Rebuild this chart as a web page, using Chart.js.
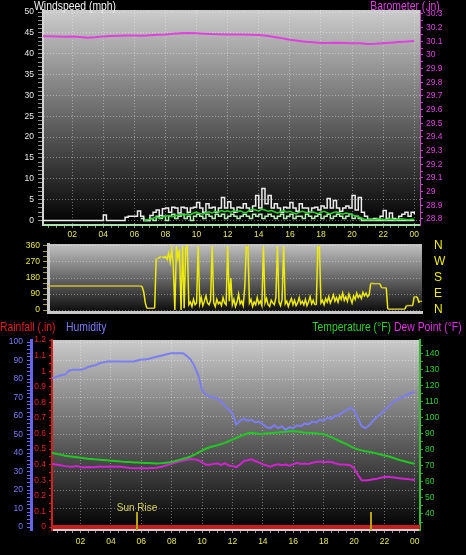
<!DOCTYPE html>
<html>
<head>
<meta charset="utf-8">
<title>Weather day</title>
<script src="https://cdn.jsdelivr.net/npm/chart.js@4/dist/chart.umd.min.js"></script>
<style>
  html, body { margin: 0; padding: 0; background: #000; }
  #page { position: relative; width: 466px; height: 555px; overflow: hidden; background: #000;
          font-family: 'Liberation Sans', Arial, sans-serif; }
  #page canvas { position: absolute; left: 0; }
  .title { position: absolute; font-size: 13px; line-height: 15px; white-space: nowrap; z-index: 5;
           transform: scaleX(0.8); transform-origin: left top; }
  .title.r { transform-origin: right top; }
</style>
</head>
<body>
<div id="page">
  <canvas id="windChart" width="466" height="240" style="top:0"></canvas>
  <canvas id="dirChart" width="466" height="92" style="top:230px"></canvas>
  <canvas id="climateChart" width="466" height="237" style="top:318px"></canvas>

  <div class="title" style="left:34px;top:-2px;color:#f2f2f2">Windspeed (mph)</div>
  <div class="title r" style="right:26px;top:-2px;color:#e040e0">Barometer (.in)</div>
  <div class="title" style="left:0;top:319px;color:#e02020">Rainfall (.in)</div>
  <div class="title" style="left:66px;top:319px;color:#7c7cf4">Humidity</div>
  <div class="title r" style="right:4px;top:319px"><span style="color:#2cd02c">Temperature (°F)</span> <span style="color:#e030e0">Dew Point (°F)</span></div>
</div>

<script>
// wind speed, mph, sampled every 0.2 h from 00:00
const windStart = 0, windStep = 0.2;
const windGust = [
  0, 0, 0, 0, 0, 0, 0, 0, 0, 0,
  0, 0, 0, 0, 0, 0, 0, 0, 0, 0,
  1.3, 0, 0, 0, 0, 0, 0, 0.8, 1, 1,
  1, 2.3, 1, 0, 0, 1.2, 2, 2.5, 1.2, 2.8,
  3, 2, 3.2, 3, 1.8, 3.2, 3, 2, 3, 3.2,
  4.3, 3, 2, 4, 3, 3.2, 2, 3, 5.5, 3,
  4.5, 3, 2, 3.2, 3, 4, 3, 2.2, 3.5, 6,
  3, 7.7, 4, 6, 3, 4, 3, 2, 3.2, 3,
  4.3, 3, 2.2, 4, 3, 3, 2, 3, 3.2, 2.5,
  3.5, 3, 5.3, 3, 4.8, 3, 2.2, 3, 3.5, 3,
  6, 2.5, 5.5, 2, 1, 0.3, 0.3, 0.5, 0.3, 1,
  2.4, 0.5, 1.8, 0.5, 0.3, 1, 1.5, 2, 1, 2,
  1.5
];
const windAvg = [
  null, null, null, null, null, null, null, null, null, null,
  null, null, null, null, null, null, null, null, null, null,
  null, null, null, null, null, null, null, null, null, null,
  null, null, null, 0, 0.2, 0.3, 0.5, 0.8, 0.6, 0.8,
  1, 1.2, 0.9, 1.1, 1.3, 1.5, 1.2, 1.6, 1.4, 1.8,
  2, 1.7, 1.5, 1.9, 2.1, 1.8, 2.2, 2, 2.4, 2.1,
  2.3, 2, 2.4, 2.1, 2.3, 2, 1.9, 2.4, 2.7, 2.5,
  2.3, 2.7, 2.5, 2.2, 2.4, 2.1, 1.8, 2.1, 2.3, 2,
  2.2, 1.9, 1.6, 2, 2.2, 2, 1.8, 2.1, 1.9, 1.6,
  2, 2.2, 1.9, 1.6, 1.9, 2.1, 1.8, 1.5, 1.8, 1.6,
  1.4, 1.1, 0.9, 0.6, 0.3, 0.2, 0.3, 0.2, 0.3, 0.4,
  0.3, 0.2, 0.4, 0.3, 0.2, 0.3, 0.4, 0.3, 0.2, 0.3,
  0.3
];
const windLull = [
  null, null, null, null, null, null, null, null, null, null,
  null, null, null, null, null, null, null, null, null, null,
  null, null, null, null, null, null, null, null, null, null,
  null, null, 0.5, 0, 0, 0.5, 0, 1, 0.5, 1,
  0, 1, 1.5, 0.5, 1, 1.5, 0.5, 1, 0, 1,
  1.5, 1, 0.5, 1.5, 1, 0.5, 1.5, 1, 1.5, 0.5,
  1, 1.5, 1, 0.5, 1, 1.5, 1, 0.5, 1.5, 1,
  1.5, 0.5, 1, 1.5, 1, 0.5, 1, 1.5, 0.5, 1,
  1.5, 0.5, 1, 1, 0.5, 1.5, 1, 0.5, 1, 1.5,
  0.5, 1, 1.5, 0.5, 1, 1.5, 1, 0.5, 1, 1.5,
  0.5, 1, 0.5, 0, 0, 0, 0, 0, 0, 0,
  0, 0, 0, 0, 0, 0, 0, 0, 0, 0,
  0
];

// barometer, inHg, every 0.5 h
const baroStart = 0, baroStep = 0.5;
const barometer = [
  30.138, 30.137, 30.136, 30.134, 30.135, 30.131, 30.126, 30.129, 30.136, 30.138,
  30.140, 30.142, 30.143, 30.141, 30.145, 30.148, 30.150, 30.155, 30.158, 30.160,
  30.158, 30.156, 30.153, 30.152, 30.150, 30.150, 30.149, 30.148, 30.146, 30.140,
  30.132, 30.122, 30.112, 30.104, 30.097, 30.093, 30.088, 30.088, 30.090, 30.088,
  30.086, 30.086, 30.081, 30.082, 30.086, 30.090, 30.095, 30.098, 30.103
];

// wind direction, degrees, every 0.1 h from 00:24
const dirStart = 0.4, dirStep = 0.1;
const windDir = [
  135, 135, 135, 135, 135, 135,
  135, 135, 135, 135, 135, 135, 135, 135, 135, 135,
  135, 135, 135, 135, 135, 135, 135, 135, 135, 135,
  135, 135, 135, 135, 135, 135, 135, 135, 135, 135,
  135, 135, 135, 135, 135, 135, 135, 135, 135, 135,
  135, 135, 135, 135, 135, 135, 135, 135, 135, 135,
  135, 135, 135, 135, 135, 130, 100, 40, 10, 10,
  10, 10, 10, 10, 290, 290, 295, 300, 300, 295,
  300, 285, 320, 270, 340, 250, 0, 360, 290, 340,
  0, 360, 10, 350, 360, 30, 45, 20, 60, 30,
  40, 360, 35, 70, 25, 50, 80, 40, 30, 55,
  360, 40, 20, 60, 35, 45, 25, 70, 40, 30,
  360, 50, 180, 30, 60, 20, 45, 90, 35, 50,
  25, 130, 360, 360, 40, 60, 20, 45, 30, 70,
  35, 50, 25, 360, 40, 65, 30, 20, 55, 40,
  30, 70, 360, 45, 25, 60, 360, 35, 50, 20,
  45, 65, 30, 55, 25, 40, 70, 35, 50, 30,
  60, 25, 45, 75, 35, 55, 30, 30, 360, 360,
  40, 55, 30, 65, 45, 75, 40, 60, 85, 50,
  70, 45, 80, 60, 95, 55, 75, 50, 90, 65,
  40, 80, 60, 95, 70, 85, 65, 100, 80, 95,
  75, 85, 150, 150, 148, 148, 148, 148, 148, 125,
  125, 125, 125, 5, 5, 5, 5, 5, 5, 5,
  5, 5, 5, 5, 5, 25, 25, 25, 25, 25,
  75, 75, 70, 45, 50, 50
];
const compassTicks = [0, 90, 180, 270, 360];
const compassNames = ['N', 'E', 'S', 'W', 'N'];

// humidity %, temperature and dew point °F, every 0.25 h
const climStart = 0, climStep = 0.25;
const humidity = [
  80.5, 80.5, 81.5, 82, 82.5, 84.5, 85, 85, 85, 85.5,
  86.5, 87, 87.5, 88.5, 89, 89.5, 89.5, 89.5, 89.5, 89.5,
  89.5, 89.5, 89.5, 90, 90.5, 90.5, 91, 91.5, 92, 92.5,
  93, 93.5, 94, 94, 94, 94, 92.5, 90.5, 87, 82,
  74, 71.5, 70.5, 70, 69.5, 68, 65.5, 63.5, 61.5, 55.5,
  57.5, 58.5, 57.5, 58, 56.5, 57, 55.5, 54, 53.5, 55,
  53.5, 54.5, 52.5, 54, 53.5, 55, 54.5, 56, 55.5, 57,
  56.5, 58, 57.5, 59, 58.5, 60, 60.5, 62, 63, 64.5,
  63, 59, 54.5, 53.5, 55, 57.5, 59.5, 61, 63, 65,
  67, 68.5, 69.5, 70.5, 71.5, 72.5, 73
];
const temperature = [
  78, 77.8, 77.3, 76.8, 76.3, 75.9, 75.6, 75.3, 75, 74.7,
  74.4, 74.2, 74, 73.8, 73.6, 73.4, 73.2, 73, 72.8, 72.6,
  72.4, 72.3, 72.1, 72, 71.9, 71.8, 71.7, 71.6, 71.5, 71.6,
  71.8, 72.1, 72.4, 73, 73.7, 74.4, 75, 75.8, 77, 78.3,
  79.5, 80.6, 81.5, 82.2, 82.8, 83.5, 84.3, 85.3, 86.3, 87.3,
  88.3, 89.3, 90.2, 90.5, 90.2, 89.8, 90, 90.3, 90.2, 90.6,
  90.8, 91, 91.2, 91.5, 91.6, 91.4, 91, 90.6, 90.5, 90.4,
  90.2, 90, 89.7, 88.8, 87.8, 86.8, 85.6, 84.5, 83.5, 82.3,
  81, 80.2, 79.6, 79.1, 78.7, 78.2, 77.6, 77, 76.4, 75.9,
  75.2, 74.4, 73.6, 73, 72.4, 71.8, 71.3
];
const dewPoint = [
  71.2, 71, 70.6, 70.2, 69.8, 69.5, 69.4, 69.8, 69.3, 69,
  69.2, 69.1, 69.3, 69.5, 69.4, 69.4, 69.5, 69.4, 69.5, 69.3,
  69, 68.7, 68.5, 68.4, 68.4, 68.5, 68.4, 68.6, 68.8, 69.3,
  69.9, 70.6, 71.3, 72, 72.6, 73.3, 73.8, 74.2, 74, 73.5,
  72.2, 70.7, 70.6, 71.2, 71.5, 70.6, 71.6, 70.2, 69.8, 69.2,
  70.8, 73, 73.5, 74, 73, 72, 71, 70.2, 69.5, 70.5,
  71, 70.4, 70.8, 70, 71, 71.8, 71.2, 71.5, 71.2, 71.9,
  72.3, 72.6, 72.2, 72.5, 72.3, 71.6, 71, 70.8, 70.6, 70.3,
  68.5, 64.5, 61, 60.8, 61.2, 61.6, 62, 62.5, 63, 63.2,
  62.8, 62.5, 62.2, 62, 61.8, 61.4, 61.2
];
// rainfall, inches
const rainHours = [0, 24.4];
const rainfall = [0, 0];

const sunRise = 5.72;
const sunSet = 21.09;

const FONT = "'Liberation Sans', Arial, sans-serif";
const GRID = 'rgba(255,255,255,0.38)';
const TICK = '#8e8e8e';
const TICK_SIZE = 8.5;

function series(start, step, values) {
  return values.map((v, i) => ({ x: Math.round((start + i * step) * 100) / 100, y: v }));
}

function steps(from, to, step) {
  const out = [];
  const n = Math.round((to - from) / step);
  for (let i = 0; i <= n; i++) out.push(Math.round((from + i * step) * 1000) / 1000);
  return out;
}

// grey to black plot background
const plotBg = {
  id: 'plotBg',
  beforeDraw(chart, args, opts) {
    const { ctx, chartArea: a } = chart;
    const g = ctx.createLinearGradient(0, a.top, 0, a.bottom);
    g.addColorStop(0, opts.top);
    g.addColorStop(1, opts.bottom);
    ctx.save();
    ctx.fillStyle = g;
    ctx.fillRect(a.left, a.top, a.width, a.height);
    ctx.restore();
  }
};

// sun rise / sun set markers
const sunMarks = {
  id: 'sunMarks',
  afterDatasetsDraw(chart) {
    const { ctx, chartArea: a, scales: { x } } = chart;
    ctx.save();
    ctx.strokeStyle = '#b9a210';
    ctx.lineWidth = 2;
    [sunRise, sunSet].forEach(h => {
      const px = Math.round(x.getPixelForValue(h));
      ctx.beginPath();
      ctx.moveTo(px, a.bottom - 18);
      ctx.lineTo(px, a.bottom);
      ctx.stroke();
    });
    ctx.fillStyle = '#d6d25a';
    ctx.font = '10px ' + FONT;
    ctx.textAlign = 'center';
    ctx.textBaseline = 'alphabetic';
    ctx.fillText('Sun Rise', x.getPixelForValue(sunRise), a.bottom - 19);
    ctx.restore();
  }
};

function hourAxis(min, max, o) {
  return {
    type: 'linear', min, max,
    afterBuildTicks: s => { s.ticks = steps(0, 24.5, 0.5).filter(v => v >= min && v <= max).map(v => ({ value: v })); },
    afterFit: s => { s.height = o.height; },
    ticks: {
      display: o.labels, autoSkip: false, maxRotation: 0, padding: o.pad,
      color: '#e6e65a', font: { family: FONT, size: TICK_SIZE },
      callback: v => (v % 2 === 0 && v > 0) ? String(v % 24).padStart(2, '0') : ''
    },
    grid: {
      drawOnChartArea: o.grid, drawTicks: o.labels, tickLength: 3, tickColor: TICK,
      color: c => (c.tick && c.tick.value % 2 === 0) ? GRID : 'transparent'
    },
    border: { color: o.border, width: o.borderWidth, dash: [1, 2] }
  };
}

function valAxis(o) {
  return {
    type: 'linear', position: o.pos, min: o.min, max: o.max, weight: o.weight || 0,
    afterBuildTicks: s => { s.ticks = o.ticks.map(v => ({ value: v })); },
    afterFit: s => { s.width = o.width; },
    ticks: {
      autoSkip: false, padding: o.pad, color: o.color,
      font: { family: FONT, size: o.size || TICK_SIZE }, callback: o.label
    },
    grid: {
      drawOnChartArea: o.grid, tickLength: o.tickLen, tickColor: o.tickColor,
      color: c => (c.tick && o.major(c.tick.value)) ? GRID : 'transparent'
    },
    border: { display: !!o.border, color: o.border, width: o.borderWidth || 1, dash: [1, 2] }
  };
}

function baseOptions(padTop, bg, scales) {
  return {
    responsive: false,
    animation: false,
    layout: { padding: { top: padTop, left: 0, right: 0, bottom: 0 } },
    elements: { point: { radius: 0 }, line: { tension: 0 } },
    plugins: { legend: { display: false }, tooltip: { enabled: false }, plotBg: bg },
    scales
  };
}

Chart.defaults.font.family = FONT;

// top: wind speed and barometer
new Chart(document.getElementById('windChart'), {
  type: 'line',
  data: {
    datasets: [
      { data: series(windStart, windStep, windAvg), borderColor: '#24d424', borderWidth: 1.5, yAxisID: 'y' },
      { data: series(windStart, windStep, windGust), borderColor: '#ececec', borderWidth: 1.5, stepped: true, yAxisID: 'y' },
      { data: series(windStart, windStep, windLull), borderColor: '#b4ecb4', borderWidth: 1.5, stepped: true, yAxisID: 'y' },
      { data: series(baroStart, baroStep, barometer), borderColor: '#e040e0', borderWidth: 2, yAxisID: 'yB' }
    ]
  },
  options: baseOptions(10, { top: '#cccccc', bottom: '#000000' }, {
    x: hourAxis(0.12, 24.37, { height: 15, labels: true, grid: true, pad: 2, border: '#a8e4a8', borderWidth: 2 }),
    y: valAxis({
      pos: 'left', min: -1.08, max: 50.48, ticks: steps(0, 50, 1),
      major: v => v % 5 === 0, label: v => v % 5 === 0 ? String(v) : '',
      color: '#e8e8e8', width: 43, tickLen: 5, pad: 4, tickColor: TICK,
      border: '#d4d4d4', borderWidth: 2, grid: true
    }),
    yB: valAxis({
      pos: 'right', min: 28.756, max: 30.329, ticks: steps(28.8, 30.3, 0.05),
      major: v => false, label: v => Math.round(v * 20) % 2 === 0 ? String(+v.toFixed(1)) : '',
      color: '#e040e0', width: 46, tickLen: 3, pad: 3, tickColor: '#c040c0',
      border: '#d040d0', borderWidth: 1, grid: false
    })
  }),
  plugins: [plotBg]
});

// middle: wind direction (steady stretches look duller than the gusty ones)
new Chart(document.getElementById('dirChart'), {
  type: 'line',
  data: {
    datasets: [
      {
        data: series(dirStart, dirStep, windDir), borderWidth: 1.5, yAxisID: 'y',
        borderColor: '#ecea10',
        segment: { borderColor: c => c.p0.parsed.y === c.p1.parsed.y ? '#cbbd3a' : '#ecea10' }
      }
    ]
  },
  options: baseOptions(14, { top: '#c2c2c2', bottom: '#0c0c0c' }, {
    x: hourAxis(0.44, 24.5, { height: 10, labels: false, grid: false, pad: 0, border: '#c8c8c8', borderWidth: 3 }),
    y: valAxis({
      pos: 'left', min: -11, max: 371, ticks: steps(0, 360, 30),
      major: v => v % 90 === 0, label: v => v % 90 === 0 ? String(v) : '',
      color: '#e6e640', width: 48, tickLen: 5, pad: 3, tickColor: '#a6a040',
      border: '#c8c8c8', borderWidth: 3, grid: true
    }),
    yC: valAxis({
      pos: 'right', min: -11, max: 371, ticks: compassTicks,
      major: v => false, label: v => compassNames[compassTicks.indexOf(v)],
      color: '#f0ec10', size: 12, width: 44, tickLen: 12, pad: 0, tickColor: 'transparent',
      border: null, grid: false
    })
  }),
  plugins: [plotBg]
});

// bottom: rain, humidity, temperature, dew point
new Chart(document.getElementById('climateChart'), {
  type: 'line',
  data: {
    datasets: [
      { data: series(climStart, climStep, humidity), borderColor: '#7c7cf4', borderWidth: 2, yAxisID: 'yH' },
      { data: series(climStart, climStep, temperature), borderColor: '#22c822', borderWidth: 2, yAxisID: 'yT' },
      { data: series(climStart, climStep, dewPoint), borderColor: '#d024d0', borderWidth: 2, yAxisID: 'yT' },
      { data: rainHours.map((h, i) => ({ x: h, y: rainfall[i] })), borderColor: '#c81e1e', borderWidth: 4, yAxisID: 'yR' }
    ]
  },
  options: baseOptions(22, { top: '#cacaca', bottom: '#000000' }, {
    x: hourAxis(0.125, 24.34, { height: 25, labels: true, grid: true, pad: 4, border: '#d0d0d0', borderWidth: 2 }),
    yH: valAxis({
      pos: 'left', weight: 1, min: -1.6, max: 101.1, ticks: steps(0, 100, 2),
      major: v => v % 10 === 0, label: v => v % 10 === 0 ? String(v) : '',
      color: '#7a7af8', width: 31, tickLen: 4, pad: 4, tickColor: '#6a6ae6',
      border: '#6464f0', borderWidth: 3, grid: true
    }),
    yR: valAxis({
      pos: 'left', weight: 0, min: -0.019, max: 1.2, ticks: steps(0, 1.2, 0.05),
      major: v => false, label: v => Math.round(v * 20) % 2 === 0 ? String(+v.toFixed(1)) : '',
      color: '#e02424', width: 21, tickLen: 3, pad: 3, tickColor: '#c02020',
      border: '#d02020', borderWidth: 2, grid: false
    }),
    yT: valAxis({
      pos: 'right', min: 30.04, max: 148.3, ticks: steps(35, 145, 5),
      major: v => false, label: v => (v % 10 === 0 && v >= 40 && v <= 140) ? String(v) : '',
      color: '#2cd02c', width: 46, tickLen: 3, pad: 2, tickColor: '#28a828',
      border: '#30c030', borderWidth: 2, grid: false
    })
  }),
  plugins: [plotBg, sunMarks]
});
</script>
</body>
</html>
